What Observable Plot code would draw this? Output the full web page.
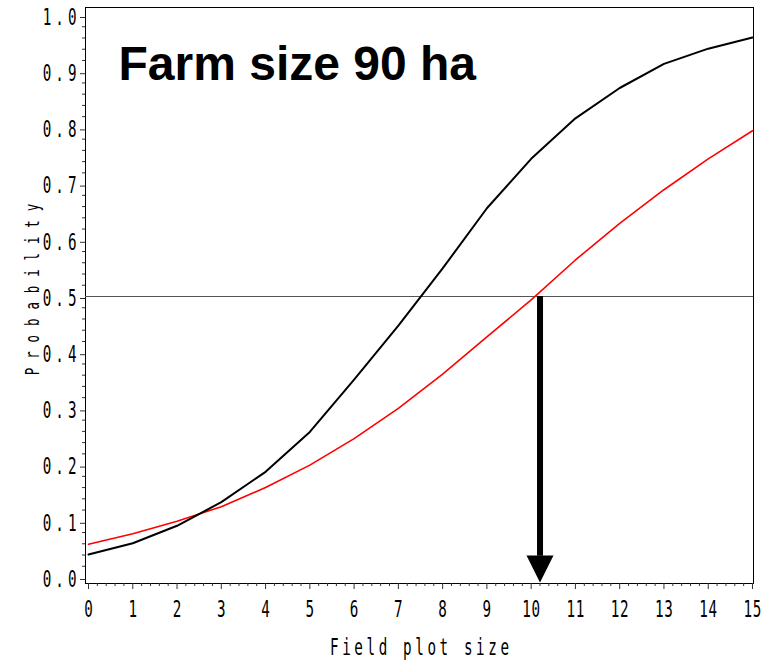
<!DOCTYPE html>
<html>
<head>
<meta charset="utf-8">
<script src="https://cdn.jsdelivr.net/npm/d3@7"></script>
<script src="https://cdn.jsdelivr.net/npm/@observablehq/plot@0.6"></script>
<style>
  html, body { margin: 0; padding: 0; background: #fff; }
</style>
</head>
<body>
<div id="chart"></div>
<script>
// ---- data ----
const fieldPlotSize = [0, 1, 2, 3, 4, 5, 6, 7, 8, 9, 10, 11, 12, 13, 14, 15];
const probBlack = [0.041, 0.061, 0.092, 0.134, 0.188, 0.259, 0.352, 0.448, 0.550, 0.657, 0.745, 0.817, 0.871, 0.914, 0.941, 0.961];
const probRed   = [0.059, 0.078, 0.100, 0.126, 0.160, 0.200, 0.247, 0.301, 0.362, 0.428, 0.494, 0.565, 0.630, 0.690, 0.745, 0.795];
const xTicks = [0, 1, 2, 3, 4, 5, 6, 7, 8, 9, 10, 11, 12, 13, 14, 15];
const yTicks = [0, 0.1, 0.2, 0.3, 0.4, 0.5, 0.6, 0.7, 0.8, 0.9, 1.0];
const threshold = [0.5];
const arrowX = [10.2];
const titleText = ["Farm size 90 ha"];
const xLabel = ["Field plot size"];
const yLabel = ["Probability"];

// ---- derived tables ----
const blackData = fieldPlotSize.map((x, i) => ({x, p: probBlack[i]}));
const redData = fieldPlotSize.map((x, i) => ({x, p: probRed[i]}));
const xMinor = d3.range(0, 75).map(i => i / 5).filter(v => Math.abs(v - Math.round(v)) > 1e-6);
const yMinor = d3.range(0, 50).map(i => i / 50).filter((v, i) => i % 5 !== 0);

const monoFont = "'DejaVu Sans Mono', 'Liberation Mono', monospace";

// filled, downward-pointing arrow head with its tip at the origin
const downHead = {
  draw(context) {
    context.moveTo(0, 0);
    context.lineTo(-13.5, -27);
    context.lineTo(13.5, -27);
    context.closePath();
  }
};

const chart = Plot.plot({
  width: 767,
  height: 662,
  marginLeft: 85,
  marginRight: 14,
  marginTop: 7,
  marginBottom: 79,
  x: {domain: [0, 15], insetLeft: 3, insetRight: 1},
  y: {domain: [0, 1], insetTop: 8, insetBottom: 6},
  style: {background: "#fff", color: "#000", overflow: "visible"},
  marks: [
    Plot.frame({stroke: "#000", strokeWidth: 1}),
    // minor ticks
    Plot.axisY({ticks: yMinor, anchor: "left", tickSize: 3, text: null, label: null, stroke: "#333"}),
    Plot.axisX({ticks: xMinor, anchor: "bottom", tickSize: 3, text: null, label: null, stroke: "#333"}),
    // major ticks
    Plot.axisY({ticks: yTicks, anchor: "left", tickSize: 5, tickPadding: 4, dy: 2,
      tickFormat: d3.format(".1f"), fontSize: 23, fontFamily: monoFont, label: null, stroke: "#333"}),
    Plot.axisX({ticks: xTicks, anchor: "bottom", tickSize: 6, tickPadding: 11,
      tickFormat: d => String(d), fontSize: 23, fontFamily: monoFont, label: null, stroke: "#333"}),
    // axis titles
    Plot.text(yLabel, {frameAnchor: "left", dx: -47, dy: -6, rotate: -90, textAnchor: "middle",
      lineAnchor: "bottom", fontSize: 20, fontFamily: monoFont, fill: "#000", ariaLabel: () => "y-axis title"}),
    Plot.text(xLabel, {frameAnchor: "bottom", dy: 71, textAnchor: "middle",
      lineAnchor: "bottom", fontSize: 23, fontFamily: monoFont, fill: "#000", ariaLabel: () => "x-axis title"}),
    // 0.5 reference line
    Plot.ruleY(threshold, {stroke: "#555", strokeWidth: 1}),
    // curves
    Plot.line(redData, {x: "x", y: "p", stroke: "#ff0000", strokeWidth: 1.6}),
    Plot.line(blackData, {x: "x", y: "p", stroke: "#000", strokeWidth: 2}),
    // arrow
    Plot.ruleX(arrowX, {x: d => d, y1: () => threshold[0], y2: () => 0.038, stroke: "#000", strokeWidth: 6}),
    Plot.dot(arrowX, {x: d => d, y: () => 0, dy: 5, symbol: downHead, r: 5, fill: "#000", stroke: null}),
    // title
    Plot.text(titleText, {frameAnchor: "top-left", dx: 33, dy: 72, textAnchor: "start", lineAnchor: "bottom",
      fontSize: 48, fontWeight: "bold", fontFamily: "'Liberation Sans', Arial, sans-serif", fill: "#000"})
  ]
});

document.getElementById("chart").appendChild(chart);

// narrow the monospace glyphs (the original uses a thin condensed stroke font)
function squeeze(selector, scale, spacing, anchor) {
  d3.select(chart).selectAll(selector).each(function () {
    const xa = this.getAttribute("x");
    let x = 0;
    if (xa !== null && !isNaN(+xa)) { x = +xa; this.removeAttribute("x"); }
    const t = this.getAttribute("transform") || "";
    const shift = anchor === "end" ? spacing : anchor === "middle" ? spacing / 2 : 0;
    this.setAttribute("transform", `${t} translate(${x},0) scale(${scale},1) translate(${shift},0)`);
    this.style.letterSpacing = spacing + "px";
  });
}
squeeze('g[aria-label="y-axis tick label"] text', 0.62, 6.5, "end");
squeeze('g[aria-label="x-axis tick label"] text', 0.62, 1, "middle");
squeeze('text[aria-label="x-axis title"], g[aria-label="x-axis title"] text', 0.62, 5.8, "middle");
squeeze('text[aria-label="y-axis title"], g[aria-label="y-axis title"] text', 0.62, 14.4, "middle");
</script>
</body>
</html>
